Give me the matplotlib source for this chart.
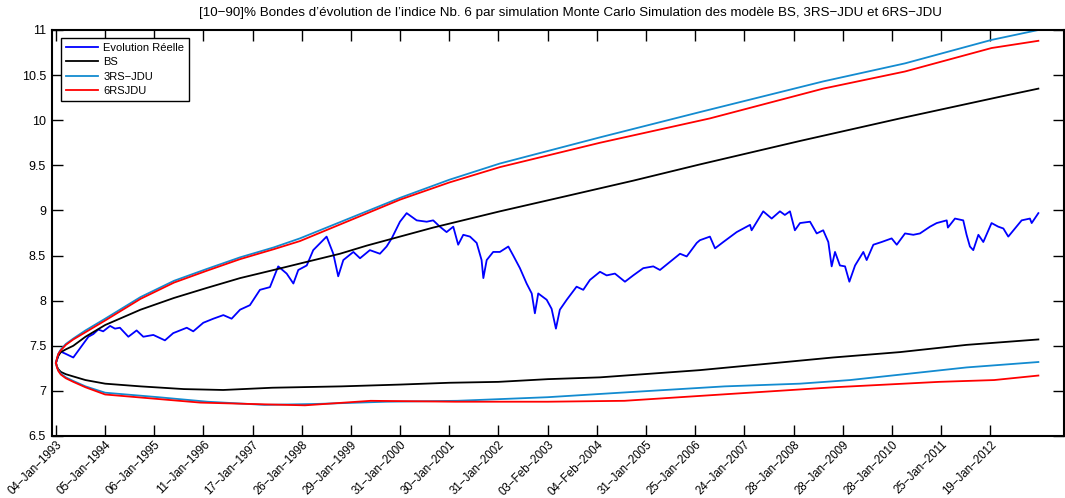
import numpy as np
import matplotlib
matplotlib.use('Agg')
import matplotlib.pyplot as plt
from matplotlib.ticker import FormatStrFormatter

plt.rcParams['font.family'] = ['Liberation Sans', 'DejaVu Sans']

# observed index path (trading day, log level)
real_days = [0, 20, 50, 88, 115, 139, 165, 190, 215, 240, 275, 300, 325, 368, 410, 444, 495, 554, 596,
             665, 698, 749, 800, 851, 893, 936, 986, 1037, 1088, 1130, 1173, 1207, 1232, 1275, 1308,
             1376, 1410, 1435, 1461, 1512, 1546, 1596, 1647, 1681, 1707, 1749, 1783, 1834, 1885,
             1918, 1952, 1986, 2020, 2045, 2071, 2105, 2139, 2164, 2173, 2190, 2223, 2257, 2300,
             2325, 2359, 2393, 2419, 2435, 2452, 2495, 2520, 2542, 2562, 2597, 2647, 2681, 2715,
             2766, 2800, 2842, 2893, 2935, 2986, 3037, 3071, 3122, 3173, 3207, 3258, 3274, 3325,
             3351, 3393, 3461, 3529, 3537, 3596, 3639, 3681, 3706, 3732, 3757, 3783, 3834, 3868,
             3901, 3927, 3944, 3961, 3986, 4012, 4034, 4063, 4105, 4122, 4156, 4198, 4249, 4275,
             4317, 4359, 4393, 4444, 4478, 4529, 4535, 4571, 4613, 4630, 4647, 4664, 4690, 4715,
             4757, 4791, 4817, 4842, 4876, 4910, 4952, 4961, 4995]
real_values = [7.31, 7.44, 7.41, 7.37, 7.45, 7.52, 7.60, 7.63, 7.68, 7.66, 7.72, 7.69, 7.70, 7.60,
               7.67, 7.60, 7.62, 7.56, 7.64, 7.70, 7.66, 7.755, 7.80, 7.84, 7.80, 7.90, 7.95, 8.12,
               8.15, 8.38, 8.30, 8.19, 8.34, 8.39, 8.56, 8.71, 8.52, 8.27, 8.45, 8.54, 8.47, 8.56,
               8.52, 8.60, 8.69, 8.875, 8.97, 8.89, 8.875, 8.89, 8.82, 8.76, 8.82, 8.62, 8.73, 8.71,
               8.64, 8.45, 8.25, 8.45, 8.54, 8.54, 8.60, 8.50, 8.36, 8.19, 8.08, 7.86, 8.08, 8.01,
               7.91, 7.69, 7.90, 8.01, 8.155, 8.12, 8.23, 8.32, 8.28, 8.30, 8.21, 8.28, 8.36, 8.38,
               8.34, 8.43, 8.52, 8.49, 8.64, 8.67, 8.71, 8.58, 8.65, 8.76, 8.84, 8.78, 8.99, 8.91,
               8.99, 8.95, 8.99, 8.78, 8.86, 8.875, 8.745, 8.78, 8.65, 8.38, 8.54, 8.39, 8.38, 8.21,
               8.39, 8.54, 8.45, 8.62, 8.65, 8.69, 8.62, 8.745, 8.73, 8.745, 8.82, 8.86, 8.89, 8.81,
               8.91, 8.89, 8.73, 8.60, 8.56, 8.73, 8.65, 8.86, 8.82, 8.80, 8.71, 8.80, 8.89, 8.91,
               8.86, 8.97]

# 10% / 90% quantile bands
bs_up_days = [0, 5, 12, 25, 50, 88, 150, 250, 430, 600, 765, 936, 1107, 1275, 1444, 1580, 1918,
              2257, 2597, 2935, 3274, 3783, 4292, 4800, 4995]
bs_up = [7.31, 7.35, 7.39, 7.43, 7.46, 7.50, 7.60, 7.73, 7.90, 8.03, 8.14, 8.25, 8.34, 8.43,
         8.52, 8.61, 8.81, 8.99, 9.16, 9.33, 9.51, 9.77, 10.02, 10.26, 10.35]
bs_low_days = [0, 5, 12, 25, 50, 88, 150, 250, 430, 650, 850, 1100, 1450, 1750, 2000, 2250,
               2500, 2766, 3274, 3613, 3950, 4292, 4630, 4995]
bs_low = [7.31, 7.27, 7.24, 7.21, 7.185, 7.16, 7.12, 7.08, 7.05, 7.02, 7.01, 7.035, 7.05, 7.07,
          7.09, 7.10, 7.13, 7.15, 7.23, 7.30, 7.37, 7.43, 7.51, 7.57]

rs3_up_days = [0, 5, 12, 25, 50, 88, 150, 250, 430, 600, 765, 936, 1107, 1240, 1750, 2000, 2257,
               2766, 3274, 3901, 4317, 4757, 4995]
rs3_up = [7.31, 7.36, 7.41, 7.46, 7.52, 7.58, 7.67, 7.80, 8.04, 8.22, 8.35, 8.48, 8.59, 8.69,
          9.14, 9.34, 9.52, 9.81, 10.09, 10.43, 10.63, 10.89, 11.00]
rs3_low_days = [0, 5, 12, 25, 50, 88, 150, 250, 520, 770, 1060, 1320, 1680, 2040, 2500, 2870,
                3400, 3783, 4037, 4292, 4630, 4995]
rs3_low = [7.31, 7.26, 7.23, 7.19, 7.15, 7.11, 7.05, 6.98, 6.93, 6.88, 6.845, 6.855, 6.88, 6.89,
           6.93, 6.98, 7.05, 7.08, 7.12, 7.18, 7.26, 7.32]

rs6_up_days = [0, 5, 12, 25, 50, 88, 150, 250, 430, 600, 765, 936, 1107, 1240, 1750, 2000, 2257,
               2766, 3325, 3901, 4317, 4757, 4995]
rs6_up = [7.31, 7.36, 7.41, 7.45, 7.51, 7.57, 7.65, 7.78, 8.02, 8.20, 8.33, 8.46, 8.57, 8.66,
          9.12, 9.31, 9.48, 9.75, 10.02, 10.35, 10.54, 10.80, 10.88]
rs6_low_days = [0, 5, 12, 25, 50, 88, 150, 250, 735, 1075, 1266, 1600, 2030, 2500, 2890, 3420,
                3955, 4490, 4770, 4995]
rs6_low = [7.31, 7.26, 7.22, 7.18, 7.14, 7.10, 7.04, 6.96, 6.87, 6.85, 6.84, 6.89, 6.88, 6.88,
           6.89, 6.965, 7.04, 7.10, 7.12, 7.17]

tick_days = list(range(0, 5000, 250))
tick_labels = ['04\u2212Jan\u22121993', '05\u2212Jan\u22121994', '06\u2212Jan\u22121995',
               '11\u2212Jan\u22121996', '17\u2212Jan\u22121997', '26\u2212Jan\u22121998',
               '29\u2212Jan\u22121999', '31\u2212Jan\u22122000', '30\u2212Jan\u22122001',
               '31\u2212Jan\u22122002', '03\u2212Feb\u22122003', '04\u2212Feb\u22122004',
               '31\u2212Jan\u22122005', '25\u2212Jan\u22122006', '24\u2212Jan\u22122007',
               '28\u2212Jan\u22122008', '28\u2212Jan\u22122009', '28\u2212Jan\u22122010',
               '25\u2212Jan\u22122011', '19\u2212Jan\u22122012']

blue = '#0000ff'
cyan = '#138bd0'
red = '#ff0000'

fig = plt.figure(figsize=(10.65, 4.98), dpi=100)
ax = fig.add_axes([0.0485, 0.1245, 0.9505, 0.8153])

lw = 1.3
ax.plot(real_days, real_values, color=blue, lw=lw, label='Evolution R\u00e9elle')
ax.plot(bs_up_days, bs_up, color='k', lw=lw, label='BS')
ax.plot(bs_low_days, bs_low, color='k', lw=lw)
ax.plot(rs3_up_days, rs3_up, color=cyan, lw=lw, label='3RS\u2212JDU')
ax.plot(rs3_low_days, rs3_low, color=cyan, lw=lw)
ax.plot(rs6_up_days, rs6_up, color=red, lw=lw, label='6RSJDU')
ax.plot(rs6_low_days, rs6_low, color=red, lw=lw)

ax.set_xlim(-22, 5125)
ax.set_ylim(6.5, 11)
ax.set_yticks(np.arange(6.5, 11.01, 0.5))
ax.yaxis.set_major_formatter(FormatStrFormatter('%g'))
ax.set_xticks(tick_days)
ax.set_xticklabels(tick_labels, rotation=45, ha='right', rotation_mode='anchor')
ax.tick_params(direction='in', length=8, width=1, top=True, right=True, colors='k')
ax.tick_params(axis='y', labelsize=9, pad=4)
ax.tick_params(axis='x', labelsize=8.3, pad=2)
for s in ax.spines.values():
    s.set_linewidth(1.5)

ax.set_title('[10\u221290]% Bondes d\u2019\u00e9volution de l\u2019indice Nb. 6 par simulation Monte Carlo '
             'Simulation des mod\u00e8le BS, 3RS\u2212JDU et 6RS\u2212JDU', fontsize=9.6, pad=10,
             x=0.512)

leg = ax.legend(loc='upper left', bbox_to_anchor=(0.0092, 0.98), fontsize=8, fancybox=False,
                framealpha=1, edgecolor='k', handlelength=2.9, borderpad=0.45, labelspacing=0.38,
                handletextpad=0.45, borderaxespad=0)
leg.get_frame().set_linewidth(1.0)

fig.savefig('out.png', dpi=100)
